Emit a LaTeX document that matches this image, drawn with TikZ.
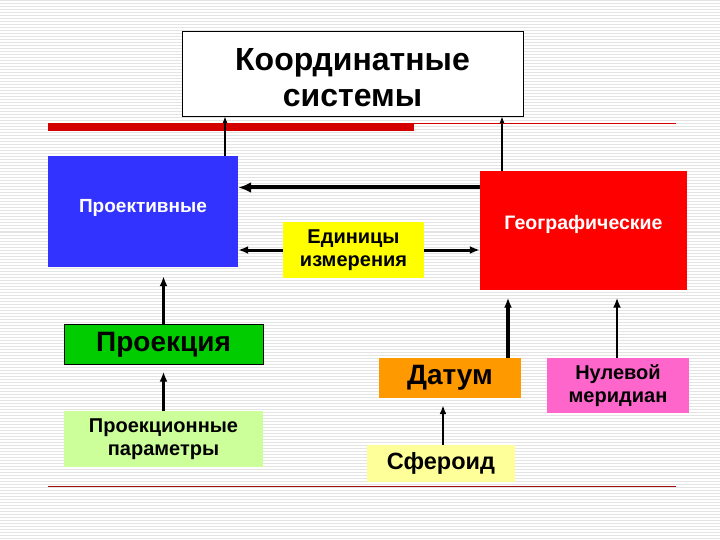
\documentclass[tikz,border=0pt]{standalone}
\usepackage{fontspec}
\setmainfont{Liberation Sans}
\usetikzlibrary{arrows.meta,calc}
\definecolor{stripe}{HTML}{E4E4E4}
\definecolor{barred}{HTML}{D40000}
\definecolor{linered}{HTML}{A01010}
\definecolor{projblue}{HTML}{3333FF}
\definecolor{geored}{HTML}{FF0000}
\definecolor{unityellow}{HTML}{FFFF00}
\definecolor{projgreen}{HTML}{00CC00}
\definecolor{paramgreen}{HTML}{CCFF99}
\definecolor{datumorange}{HTML}{FF9900}
\definecolor{merpink}{HTML}{FF66CC}
\definecolor{sphyellow}{HTML}{FFFF99}

\begin{document}
\begin{tikzpicture}[x=1pt,y=-1pt,
  box/.style={inner sep=0pt,align=center,text=black,
    font=\fontsize{20}{23}\selectfont\bfseries},
  bigbox/.style={box,font=\fontsize{28}{32}\selectfont\bfseries},
  link/.style={-{Latex[length=10pt,width=8pt]},line width=3pt},
  thinlink/.style={-{Latex[length=7pt,width=5pt]},line width=1.3pt}
]
  \useasboundingbox (0,0) rectangle (720,540);
  % slide background
  \fill[white] (0,0) rectangle (720,540);
  \foreach \y in {1,4,...,540}
    \draw[stripe,line width=1pt] (0,\y) -- (720,\y);

  \draw[barred,line width=8pt] (48,127) -- (414,127);
  \draw[barred,line width=1pt] (414,123.5) -- (676,123.5);
  \draw[linered,line width=1pt] (48,486) -- (676,486);

  \node[box,draw=black,fill=white,minimum width=341pt,minimum height=85pt]
    (coord) at (352.5,73.5) {};
  \node[box,font=\fontsize{32}{36}\selectfont\bfseries] (coordlabel)
    at (352.5,78) {Координатные\\системы};

  \node[box,fill=projblue,minimum width=190pt,minimum height=111pt] (proj)
    at (143,211.5) {};
  \node[box,text=white,font=\fontsize{19}{22}\selectfont\bfseries] (projlabel)
    at (143,208) {Проективные};
  \node[box,fill=geored,minimum width=207pt,minimum height=118pt] (geo)
    at (583.5,230.5) {};
  \node[box,text=white,font=\fontsize{19.5}{22}\selectfont\bfseries] (geolabel)
    at (583.5,224) {Географические};
  \node[box,fill=unityellow,minimum width=141pt,minimum height=55pt] (units)
    at (353.5,250) {Единицы\\измерения};

  \node[bigbox,draw=black,fill=projgreen,minimum width=199pt,minimum height=40pt]
    (projection) at (163.5,344.5) {Проекция};
  \node[box,fill=paramgreen,minimum width=199pt,minimum height=56pt] (params)
    at (163.5,439) {Проекционные\\параметры};

  \node[bigbox,fill=datumorange,minimum width=142pt,minimum height=40pt] (datum)
    at (450,378) {Датум};
  \node[box,fill=merpink,minimum width=142pt,minimum height=55pt] (meridian)
    at (618,385.5) {Нулевой\\меридиан};
  \node[box,fill=sphyellow,minimum width=148pt,minimum height=37pt,
    font=\fontsize{23.5}{27}\selectfont\bfseries] (spheroid) at (441,463.5) {Сфероид};

  \draw[thinlink] ([xshift=82pt]proj.north) -- ([xshift=82pt]proj.north |- coord.south);
  \draw[thinlink] ([xshift=-81.5pt]geo.north) -- ([xshift=-81.5pt]geo.north |- coord.south);

  \draw[link,line width=4pt,-{Latex[length=13pt,width=11pt]}]
    ([yshift=43pt]geo.west) -- ([yshift=43pt]geo.west -| proj.east);
  \draw[link] (units.west) -- (units.west -| proj.east);
  \draw[link] (units.east) -- (units.east -| geo.west);

  \draw[link,shorten >=9pt] (projection.north) -- (projection.north |- proj.south);
  \draw[link,shorten >=7pt] (params.north) -- (params.north |- projection.south);

  \draw[link,line width=3.5pt,shorten >=8pt] ([xshift=58pt]datum.north) -- ([xshift=58pt]datum.north |- geo.south);
  \draw[link,line width=2.5pt,shorten >=8pt] ([xshift=-1pt]meridian.north) -- ([xshift=-1pt]meridian.north |- geo.south);
  \draw[link,line width=2pt,shorten >=7pt,-{Latex[length=9pt,width=7pt]}]
    ([xshift=2pt]spheroid.north) -- ([xshift=2pt]spheroid.north |- datum.south);
\end{tikzpicture}
\end{document}
